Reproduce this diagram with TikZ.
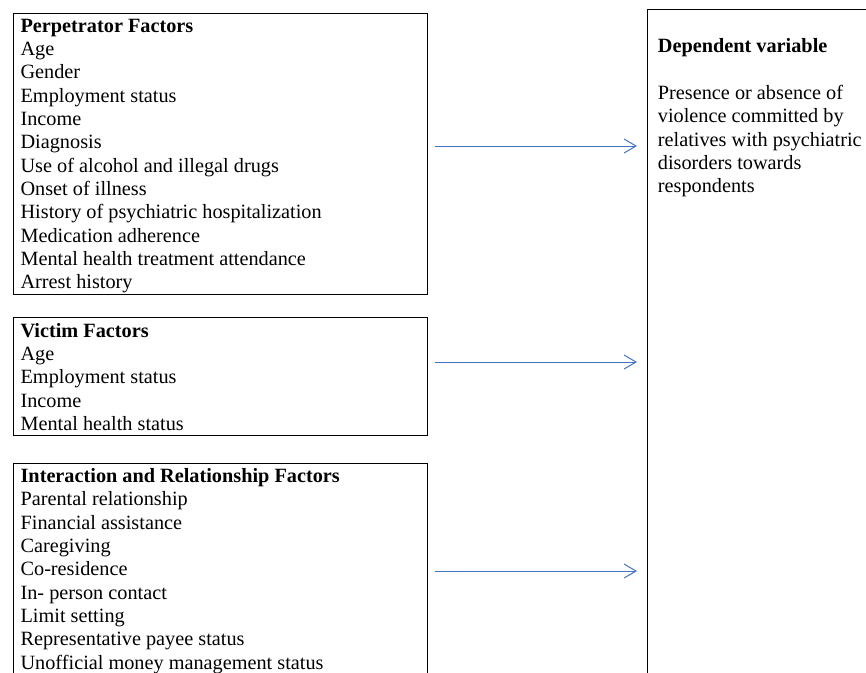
\documentclass[tikz,border=0pt]{standalone}
\usepackage{fontspec}
\setmainfont{Liberation Serif}
\usetikzlibrary{arrows.meta, positioning}
\definecolor{arrowblue}{HTML}{4472C4}
\tikzset{
factor box/.style = { rectangle, draw = black, line width = 1pt, fill = none, minimum width = 310.5pt, anchor = north west, inner sep = 0pt },
outcome box/.style = { rectangle, draw = black, line width = 1pt, fill = none, minimum width = 180pt, minimum height = 525pt, anchor = north west, inner sep = 0pt },
box text/.style = { anchor = north west, inner sep = 0pt, align = left, font = \fontsize{15.2}{17.5}\selectfont },
influence/.style = { draw = arrowblue, line width = 0.75pt, -{Straight Barb[length = 9pt, width = 10.5pt]} },
}
\begin{document}
\begin{tikzpicture}[x=0.75pt, y=-0.75pt]
      \useasboundingbox (0,0) rectangle (866,672);
      % boxes
      \node[factor box, minimum height = 210.75pt] (perp) at (13,13) {};
      \node[factor box, minimum height = 88.5pt] (vict) at (13,317) {};
      \node[factor box, minimum height = 158.25pt] (inter) at (13,463) {};
      \node[outcome box] (dep) at (647,9) {};
      % texts
      \node[box text] (perp text) at ([xshift=5.5pt, yshift=-4.25pt]perp.north west) {\textbf{Perpetrator Factors}\\ Age\\ Gender\\ Employment status\\ Income\\ Diagnosis\\ Use of alcohol and illegal drugs\\ Onset of illness\\ History of psychiatric hospitalization\\ Medication adherence\\ Mental health treatment attendance\\ Arrest history};
      \node[box text] (vict text) at ([xshift=5.5pt, yshift=-4.25pt]vict.north west) {\textbf{Victim Factors}\\ Age\\ Employment status\\ Income\\ Mental health status};
      \node[box text] (inter text) at ([xshift=5.5pt, yshift=-3.75pt]inter.north west) {\textbf{Interaction and Relationship Factors}\\ Parental relationship\\ Financial assistance\\ Caregiving\\ Co-residence\\ In- person contact\\ Limit setting\\ Representative payee status\\ Unofficial money management status};
      \node[box text] (dep text) at ([xshift=8pt, yshift=-22pt]dep.north west) {\textbf{Dependent variable}\\[17.5pt] Presence or absence of\\ violence committed by\\ relatives with psychiatric\\ disorders towards\\ respondents};
      % arrows
      \draw[influence] ([xshift=5.25pt]perp.east |- 0,146) -- ([xshift=-7.5pt]dep.west |- 0,146);
      \draw[influence] ([xshift=5.25pt]vict.east |- 0,362) -- ([xshift=-7.5pt]dep.west |- 0,362);
      \draw[influence] ([xshift=5.25pt]inter.east |- 0,571) -- ([xshift=-7.5pt]dep.west |- 0,571);
\end{tikzpicture}
\end{document}
